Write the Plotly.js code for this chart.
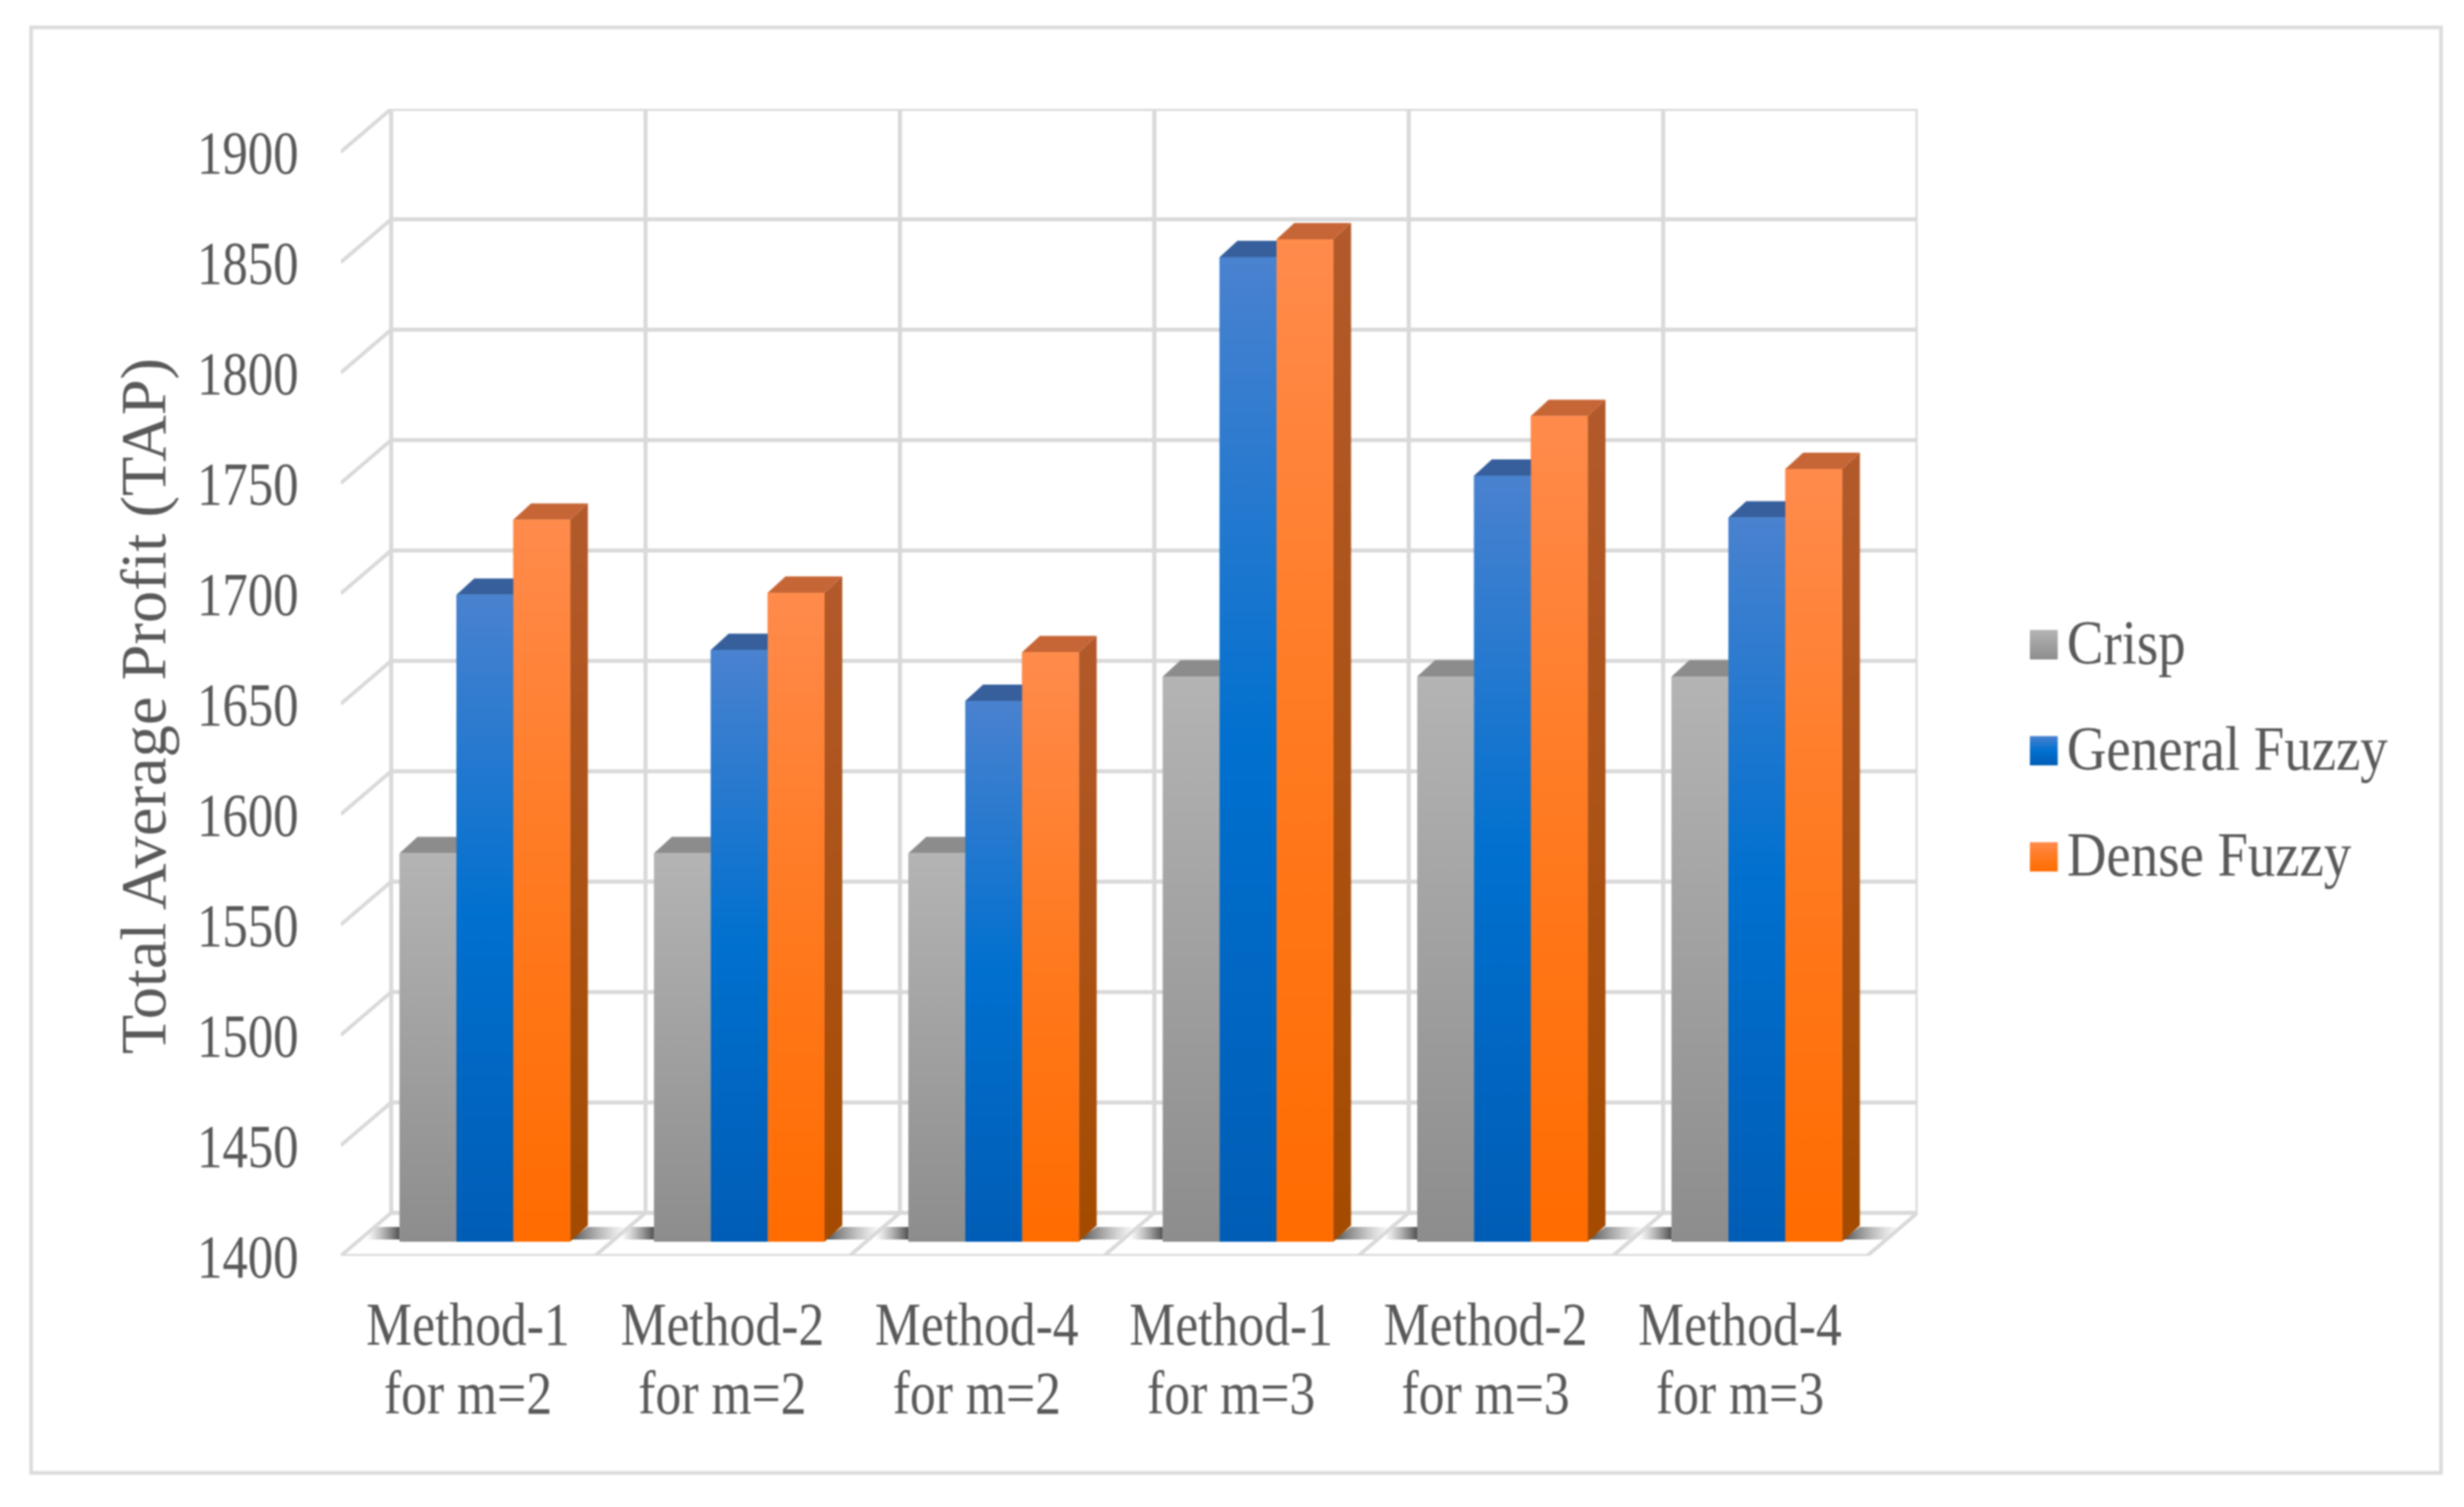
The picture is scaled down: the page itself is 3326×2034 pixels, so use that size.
<!DOCTYPE html>
<html><head><meta charset="utf-8">
<script src="https://cdn.plot.ly/plotly-3.0.1.min.js"></script>
<style>html,body{margin:0;padding:0;background:#fff}#chart{filter:blur(1.1px)}</style>
</head><body><div id="chart" style="width:3326px;height:2034px"></div>
<script>
// ---- data ----
const categories = ['Method-1<br>for m=2','Method-2<br>for m=2','Method-4<br>for m=2','Method-1<br>for m=3','Method-2<br>for m=3','Method-4<br>for m=3'];
const crisp = [1576,1576,1576,1656,1656,1656];
const generalFuzzy = [1693,1668,1645,1846,1747,1728];
const denseFuzzy = [1727,1694,1667,1854,1774,1750];
const seriesNames = ['Crisp','General Fuzzy','Dense Fuzzy'];
const yTicks = [1400,1450,1500,1550,1600,1650,1700,1750,1800,1850,1900];

// ---- geometry (pixels of the 3D look) ----
const W=3326,H=2034;
const frontLeft=460, frontBottom=1695, catPx=343.4, unitPx=2.98;
const wallDX=68, wallDY=58;           // back wall offset from the front plane
const barDX=22.8, barDY=19;           // bar front offset from the front plane
const depthDX=24, depthDY=22;         // bar depth
const bargap=0.33;
const xr=[0,6+wallDX/catPx], yr=[1400,1900+wallDY/unitPx];
const plotW=catPx*xr[1], plotH=unitPx*(yr[1]-1400);
const GRID='#d9d9d9', TXT='#595959', FONT='"Liberation Serif", serif';

const faces=[
 {vals:crisp, solid:'#a2a2a2', front:[[0,'#8d8d8d'],[1,'#b4b4b4']], side:'#777777', top:'#8c8c8c'},
 {vals:generalFuzzy, solid:'#0070cc', front:[[0,'#005db6'],[0.5,'#0070cf'],[1,'#4a82cf']], side:'#20508f', top:'#365f9c'},
 {vals:denseFuzzy, solid:'#ff7a1c', front:[[0,'#ff6c00'],[0.5,'#ff7a20'],[1,'#ff8b4c']],
  side:[[0,'#a44b00'],[1,'#b35a2c']], top:'#c66637'}
];

const traces=[];
const k0=categories.map((_,i)=>i+0.5);

// floor shadows (main plane)
const sdx=p=>p/catPx, sdy=p=>p/unitPx;
categories.forEach((_,k)=>{
  const base=barDX/catPx+k+bargap/2, right=base+1-bargap;
  const yB=1400+sdy(frontBottom-1673), yT=1400+sdy(frontBottom-1656);
  traces.push({type:'scatter',mode:'none',x:[base,base-sdx(45),base-sdx(45)+sdx(10),base],y:[yB,yB,yT,yT],
    fill:'toself',fillgradient:{type:'horizontal',colorscale:[[0,'rgba(120,120,120,0)'],[1,'rgba(60,60,60,0.9)']]},
    showlegend:false,hoverinfo:'skip',xaxis:'x',yaxis:'y'});
  traces.push({type:'scatter',mode:'none',x:[right,right+sdx(62),right+sdx(78),right+sdx(24)],y:[yB,yB,yT,yT],
    fill:'toself',fillgradient:{type:'horizontal',colorscale:[[0,'rgba(60,60,60,0.92)'],[1,'rgba(140,140,140,0)']]},
    showlegend:false,hoverinfo:'skip',xaxis:'x',yaxis:'y'});
});

// walls and floor (main plane)
const gx=[],gy=[];
yTicks.forEach(v=>{
  gx.push(sdx(wallDX),xr[1],null); gy.push(v+sdy(wallDY),v+sdy(wallDY),null);
});
for(let k=0;k<=6;k++){
  gx.push(k+sdx(wallDX),k+sdx(wallDX),null); gy.push(1400+sdy(wallDY),yr[1],null);
}
traces.push({type:'scatter',mode:'lines',x:gx,y:gy,line:{color:GRID,width:5.5},cliponaxis:false,
  showlegend:false,hoverinfo:'skip',xaxis:'x',yaxis:'y'});
const dx=[],dy=[];
yTicks.forEach(v=>{ dx.push(0,sdx(wallDX),null); dy.push(v,v+sdy(wallDY),null); });
for(let k=1;k<=6;k++){ dx.push(k,k+sdx(wallDX),null); dy.push(1400,1400+sdy(wallDY),null); }
dx.push(0,6,null); dy.push(1400,1400,null);
traces.push({type:'scatter',mode:'lines',x:dx,y:dy,line:{color:GRID,width:5},cliponaxis:false,
  showlegend:false,hoverinfo:'skip',xaxis:'x',yaxis:'y'});

// real bars (bar plane)
faces.forEach((f,i)=>{
  traces.push({type:'bar',name:seriesNames[i],x:k0,y:f.vals,marker:{color:f.solid,line:{width:0}},
    legendgroup:seriesNames[i],xaxis:'x2',yaxis:'y2',hoverinfo:'y+name'});
});

// 3D faces derived from the same values
const w=(1-bargap)/3, ddx=depthDX/catPx, ddy=depthDY/unitPx;
faces.forEach((f,i)=>{
  f.vals.forEach((v,k)=>{
    const l=k+0.5+(i-1.5)*w, r=l+w;
    const common={type:'scatter',mode:'none',fill:'toself',showlegend:false,hoverinfo:'skip',xaxis:'x2',yaxis:'y2'};
    traces.push(Object.assign({},common,{x:[r,r+ddx,r+ddx,r],y:[1400,1400+ddy,v+ddy,v],
      fillcolor:typeof f.side==='string'?f.side:undefined,
      fillgradient:typeof f.side==='string'?undefined:{type:'vertical',colorscale:f.side}}));
    traces.push(Object.assign({},common,{x:[l,l+ddx,r+ddx,r],y:[v,v+ddy,v+ddy,v],fillcolor:f.top}));
    traces.push(Object.assign({},common,{x:[l,r,r,l],y:[1400,1400,v,v],
      fillgradient:{type:'vertical',colorscale:f.front}}));
  });
});

const layout={
  width:W,height:H,margin:{l:0,r:0,t:0,b:0},paper_bgcolor:'#ffffff',plot_bgcolor:'rgba(0,0,0,0)',
  barmode:'group',bargap:bargap,bargroupgap:0,
  font:{family:FONT,color:TXT},
  xaxis:{domain:[frontLeft/W,(frontLeft+plotW)/W],range:xr,tickmode:'array',tickvals:k0,ticktext:categories,
    showgrid:false,zeroline:false,showline:false,ticks:'',ticklabelstandoff:36,tickangle:0,
    tickfont:{family:FONT,size:83,color:TXT},anchor:'y',automargin:false},
  yaxis:{domain:[1-frontBottom/H,1-(frontBottom-plotH)/H],range:yr,tickmode:'array',tickvals:yTicks,
    ticktext:yTicks.map(String),showgrid:false,zeroline:false,showline:false,ticks:'',ticklabelstandoff:56,
    tickfont:{family:FONT,size:83,color:TXT},anchor:'x',automargin:false,
    title:{text:'Total Average Profit (TAP)',font:{family:FONT,size:87,color:TXT},standoff:0}},
  xaxis2:{domain:[(frontLeft+barDX)/W,(frontLeft+barDX+plotW)/W],range:xr,visible:false,anchor:'y2'},
  yaxis2:{domain:[1-(frontBottom-barDY)/H,1-(frontBottom-barDY-plotH)/H],range:yr,visible:false,anchor:'x2'},
  legend:{x:2740/W,y:1-802/H,xanchor:'left',yanchor:'top',traceorder:'grouped',tracegroupgap:31,
    itemwidth:40,font:{family:FONT,size:84,color:TXT},bgcolor:'rgba(0,0,0,0)'},
  shapes:[{type:'rect',xref:'paper',yref:'paper',x0:42/W,x1:3295/W,y0:1-1988/H,y1:1-37/H,
    line:{color:'#dcdcdc',width:5},fillcolor:'rgba(0,0,0,0)',layer:'below'}]
};

function squeeze(el,sx,anchor){
  const b=el.getBBox();
  const px=anchor==='end'?b.x+b.width:anchor==='start'?b.x:b.x+b.width/2;
  const cur=el.getAttribute('transform')||'';
  el.setAttribute('transform',cur+` translate(${px},0) scale(${sx},1) translate(${-px},0)`);
}
Plotly.newPlot('chart',traces,layout,{displayModeBar:false,staticPlot:true}).then(gd=>{
  gd.querySelectorAll('.xtick text').forEach(t=>{
    const ls=t.querySelectorAll('tspan.line');
    ls.forEach((s,i)=>{ if(i>0) s.setAttribute('dy','1.12em'); });
    squeeze(t,0.84,'middle');
  });
  gd.querySelectorAll('.ytick text').forEach(t=>squeeze(t,0.825,'end'));
  gd.querySelectorAll('.legendtext').forEach(t=>squeeze(t,0.88,'start'));
  const yt=gd.querySelector('.ytitle');
  if(yt){ yt.setAttribute('transform','translate(16,32) '+(yt.getAttribute('transform')||'')); }
  const svg=gd.querySelector('.main-svg'); const NS='http://www.w3.org/2000/svg';
  let defs=svg.querySelector('defs');
  gd.querySelectorAll('.legend .legendpoints path').forEach((p,i)=>{
    const g=document.createElementNS(NS,'linearGradient'); g.id='lg'+i;
    g.setAttribute('x1','0');g.setAttribute('x2','0');g.setAttribute('y1','1');g.setAttribute('y2','0');
    faces[i].front.forEach(c=>{const s=document.createElementNS(NS,'stop');
      s.setAttribute('offset',c[0]);s.setAttribute('stop-color',c[1]);g.appendChild(s);});
    defs.appendChild(g);
    p.style.fill='url(#lg'+i+')';
    p.setAttribute('transform','translate(7,7) scale(5.1,3.3)');
  });
});
</script></body></html>
